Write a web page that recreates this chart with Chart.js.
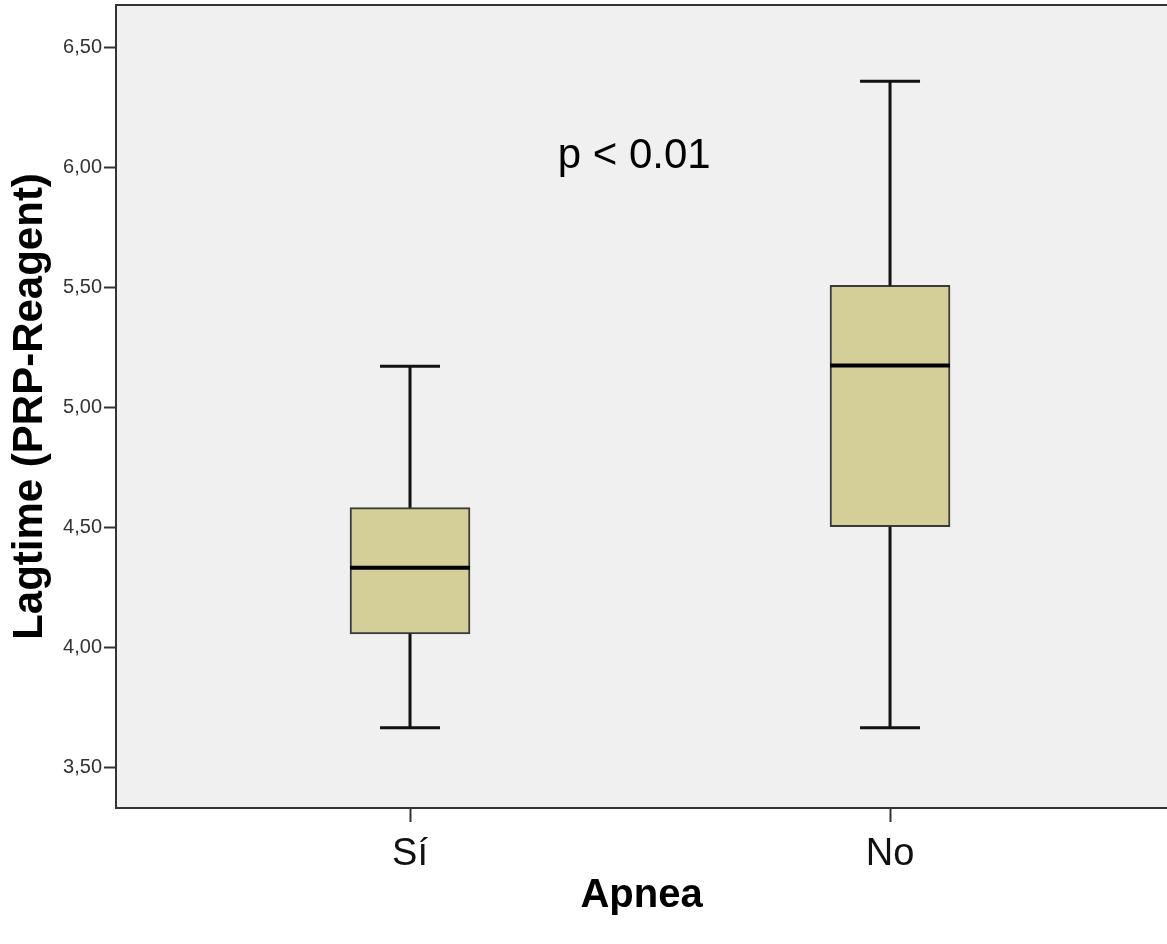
<!DOCTYPE html>
<html>
<head>
<meta charset="utf-8">
<title>Lagtime por Apnea</title>
<script src="https://cdn.jsdelivr.net/npm/chart.js@4.4.0/dist/chart.umd.min.js"></script>
<style>
    html, body { margin: 0; padding: 0; background: #ffffff; }
    #wrap { width: 1167px; height: 944px; position: relative; }
</style>
</head>
<body>
<div id="wrap"><canvas id="boxChart"></canvas></div>
<script>
// Box plot data
const categories = ['Sí', 'No'];
const catPos = [1, 2];
const whiskerLow = [3.667, 3.667];
const q1 = [4.058, 4.504];
const medians = [4.333, 5.175];
const q3 = [4.583, 5.508];
const whiskerHigh = [5.171, 6.358];
const yTicks = [3.5, 4.0, 4.5, 5.0, 5.5, 6.0, 6.5];
const pLabel = 'p < 0.01';

const AXIS_COLOR = '#333333';
const FONT = '"Liberation Sans", Arial, sans-serif';

// Whiskers, caps, median lines, plot frame and p-value
const boxExtras = {
    id: 'boxExtras',
    beforeDraw(chart) {
        const { ctx, chartArea: a } = chart;
        ctx.save();
        ctx.fillStyle = '#ffffff';
        ctx.fillRect(0, 0, chart.width, chart.height);
        ctx.fillStyle = '#f0f0f0';
        ctx.fillRect(a.left, a.top, a.right - a.left, a.bottom - a.top);
        ctx.restore();
    },
    afterDatasetsDraw(chart) {
        const { ctx, chartArea: a, scales: { x, y } } = chart;
        ctx.save();
        ctx.lineCap = 'butt';
        catPos.forEach((c, i) => {
            const px = x.getPixelForValue(c);
            ctx.strokeStyle = '#111111';
            // whisker stems
            ctx.lineWidth = 3;
            ctx.beginPath();
            ctx.moveTo(px, y.getPixelForValue(q3[i]));
            ctx.lineTo(px, y.getPixelForValue(whiskerHigh[i]));
            ctx.moveTo(px, y.getPixelForValue(q1[i]));
            ctx.lineTo(px, y.getPixelForValue(whiskerLow[i]));
            ctx.stroke();
            // caps
            ctx.beginPath();
            ctx.moveTo(px - 30, y.getPixelForValue(whiskerHigh[i]));
            ctx.lineTo(px + 30, y.getPixelForValue(whiskerHigh[i]));
            ctx.moveTo(px - 30, y.getPixelForValue(whiskerLow[i]));
            ctx.lineTo(px + 30, y.getPixelForValue(whiskerLow[i]));
            ctx.stroke();
            // median
            ctx.lineWidth = 4;
            ctx.strokeStyle = '#000000';
            ctx.beginPath();
            ctx.moveTo(px - 60, y.getPixelForValue(medians[i]));
            ctx.lineTo(px + 60, y.getPixelForValue(medians[i]));
            ctx.stroke();
        });
        // top frame line
        ctx.lineWidth = 2;
        ctx.strokeStyle = AXIS_COLOR;
        ctx.beginPath();
        ctx.moveTo(a.left, a.top);
        ctx.lineTo(a.right, a.top);
        ctx.stroke();
        // p-value annotation
        ctx.fillStyle = '#000000';
        ctx.font = '42px ' + FONT;
        ctx.textAlign = 'center';
        ctx.textBaseline = 'middle';
        ctx.fillText(pLabel, a.left + (a.right - a.left) * 0.493, a.top + (a.bottom - a.top) * 0.189);
        ctx.restore();
    }
};

const ctx = document.getElementById('boxChart');
new Chart(ctx, {
    type: 'bar',
    data: {
        datasets: [{
            data: catPos.map((c, i) => ({ x: c, y: [q1[i], q3[i]] })),
            backgroundColor: '#d4cf99',
            borderColor: '#3a3a3a',
            borderWidth: 2,
            borderSkipped: false,
            barThickness: 120
        }]
    },
    options: {
        responsive: true,
        maintainAspectRatio: false,
        animation: false,
        layout: { padding: { top: 5, right: 0, left: 0, bottom: 0 } },
        plugins: {
            legend: { display: false },
            tooltip: { enabled: false }
        },
        scales: {
            x: {
                type: 'linear',
                offset: false,
                min: 0.3875,
                max: 2.577,
                afterBuildTicks(scale) {
                    scale.ticks = catPos.map(v => ({ value: v }));
                },
                afterFit(scale) {
                    scale.height = 136;
                    scale.paddingLeft = 0;
                    scale.paddingRight = 0;
                },
                grid: {
                    offset: false,
                    drawOnChartArea: false,
                    drawTicks: true,
                    tickLength: 14,
                    tickWidth: 2,
                    color: AXIS_COLOR
                },
                border: { display: true, color: AXIS_COLOR, width: 2 },
                ticks: {
                    autoSkip: false,
                    maxRotation: 0,
                    padding: 10,
                    color: '#111111',
                    font: { family: FONT, size: 38 },
                    callback: (v) => categories[catPos.indexOf(v)] ?? ''
                },
                title: {
                    display: true,
                    text: 'Apnea',
                    color: '#000000',
                    font: { family: FONT, size: 40, weight: 'bold' },
                    padding: { top: 0, bottom: 24 }
                }
            },
            y: {
                min: 3.333,
                max: 6.675,
                afterBuildTicks(scale) {
                    scale.ticks = yTicks.map(v => ({ value: v }));
                },
                afterFit(scale) {
                    scale.width = 116;
                    scale.paddingTop = 0;
                    scale.paddingBottom = 0;
                },
                grid: {
                    drawOnChartArea: false,
                    drawTicks: true,
                    tickLength: 12,
                    tickWidth: 2,
                    color: AXIS_COLOR
                },
                border: { display: true, color: AXIS_COLOR, width: 2 },
                ticks: {
                    padding: 2,
                    color: '#333333',
                    font: { family: FONT, size: 20 },
                    callback: (v) => Number(v).toFixed(2).replace('.', ',')
                },
                title: {
                    display: true,
                    text: 'Lagtime (PRP-Reagent)',
                    color: '#000000',
                    font: { family: FONT, size: 42, weight: 'bold' },
                    padding: { top: 5, bottom: 0 }
                }
            }
        }
    },
    plugins: [boxExtras]
});
</script>
</body>
</html>
